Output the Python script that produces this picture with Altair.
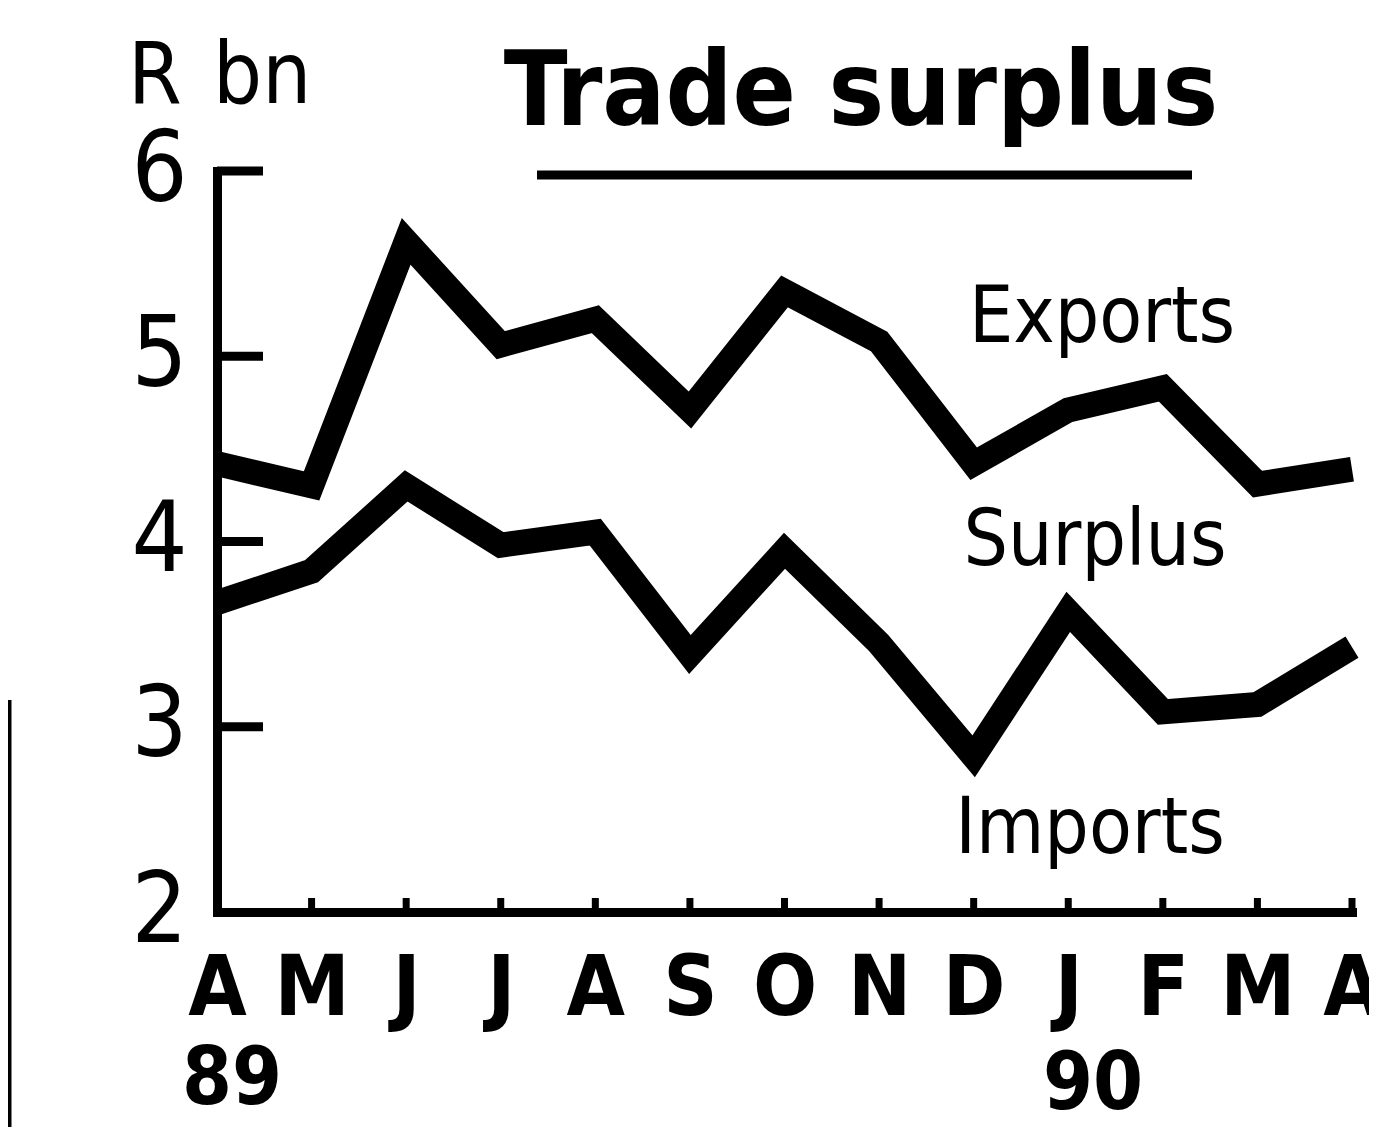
import altair as alt
import pandas as pd

# ---- data (R bn) ----
months = ["A", "M", "J", "J", "A", "S", "O", "N", "D", "J", "F", "M", "A"]
exports = [4.42, 4.30, 5.62, 5.06, 5.20, 4.71, 5.35, 5.08, 4.42, 4.71, 4.83, 4.31, 4.39]
imports = [3.67, 3.84, 4.30, 3.98, 4.05, 3.39, 3.95, 3.45, 2.84, 3.62, 3.08, 3.12, 3.43]
y_ticks = [2, 3, 4, 5, 6]
years = ["89", "90"]
series_names = ["Exports", "Surplus", "Imports"]
title_text = "Trade surplus"
unit_text = ["R", "bn"]

FONT = "Liberation Sans Narrow, DejaVu Sans Condensed, sans-serif"
W, H = 1135, 741

rows = []
for i in range(len(months)):
    rows.append({"idx": i, "series": "Exports", "value": exports[i]})
    rows.append({"idx": i, "series": "Imports", "value": imports[i]})
df = pd.DataFrame(rows)

label_expr = "[" + ",".join("'%s'" % m for m in months) + "][datum.value]"

x_scale = alt.Scale(domain=[0, len(months) - 1], nice=False, zero=False)
y_scale = alt.Scale(domain=[2, 6], nice=False, zero=False)

x_axis = alt.Axis(values=list(range(len(months))), labelExpr=label_expr, title=None,
                  grid=False, ticks=False, domainWidth=9, domainColor="black",
                  domainCap="square", labelFont=FONT, labelFontSize=84,
                  labelFontWeight="bold", labelColor="black", labelPadding=102,
                  labelBaseline="alphabetic", labelAngle=0, labelFlush=False,
                  labelOverlap=False)
y_axis = alt.Axis(values=y_ticks, title=None, grid=False, ticks=False, domainWidth=9,
                  domainColor="black", domainCap="square", labelFont=FONT,
                  labelFontSize=98, labelColor="black", labelPadding=30,
                  labelBaseline="middle", labelAlign="right", labelFlush=False,
                  labelOverlap=False)

lines = alt.Chart(df).mark_line(color="black", strokeWidth=25, strokeJoin="miter",
                                strokeMiterLimit=10).encode(
    x=alt.X("idx:Q", scale=x_scale, axis=x_axis),
    y=alt.Y("value:Q", scale=y_scale, axis=y_axis),
    detail="series:N",
)

y_tick_layer = alt.Chart(pd.DataFrame({"value": y_ticks[1:]})).mark_rule(
    color="black", strokeWidth=9).encode(
    y=alt.Y("value:Q", scale=y_scale, axis=y_axis),
    x=alt.value(0), x2=alt.value(46),
)

x_tick_layer = alt.Chart(pd.DataFrame({"idx": list(range(1, len(months)))})).mark_rule(
    color="black", strokeWidth=7).encode(
    x=alt.X("idx:Q", scale=x_scale, axis=x_axis),
    y=alt.value(H), y2=alt.value(H - 14),
)


def ann(text, x, y, size, weight="normal", align="left"):
    return alt.Chart(pd.DataFrame({"t": [text]})).mark_text(
        font=FONT, fontSize=size, fontWeight=weight, align=align,
        baseline="alphabetic", color="black").encode(
        text="t:N", x=alt.value(x), y=alt.value(y))


def rule(x1, x2, y1, y2, width):
    return alt.Chart(pd.DataFrame({"k": [0]})).mark_rule(
        color="black", strokeWidth=width).encode(
        x=alt.value(x1), x2=alt.value(x2), y=alt.value(y1), y2=alt.value(y2))


layers = [
    lines, y_tick_layer, x_tick_layer,
    ann(unit_text[0], -89, -68, 86),
    ann(unit_text[1], -4, -68, 86),
    ann(title_text, 644, -46, 104, "bold", "center"),
    rule(320, 975, 4, 4, 9),
    ann(series_names[0], 885, 171, 78, "normal", "center"),
    ann(series_names[1], 878, 394, 78, "normal", "center"),
    ann(series_names[2], 873, 682, 78, "normal", "center"),
    ann(years[0], -35, 933, 80, "bold"),
    ann(years[1], 826, 938, 80, "bold"),
    rule(-208, -208, 529, 964, 5),
]

chart = alt.layer(*layers).properties(
    width=W, height=H,
    autosize=alt.AutoSizeParams(type="none"),
    padding={"left": 209, "top": 163, "right": 17, "bottom": 215},
    background="white",
).configure_view(stroke=None)

chart.save("out.html", embed_options={"renderer": "svg", "actions": False})
